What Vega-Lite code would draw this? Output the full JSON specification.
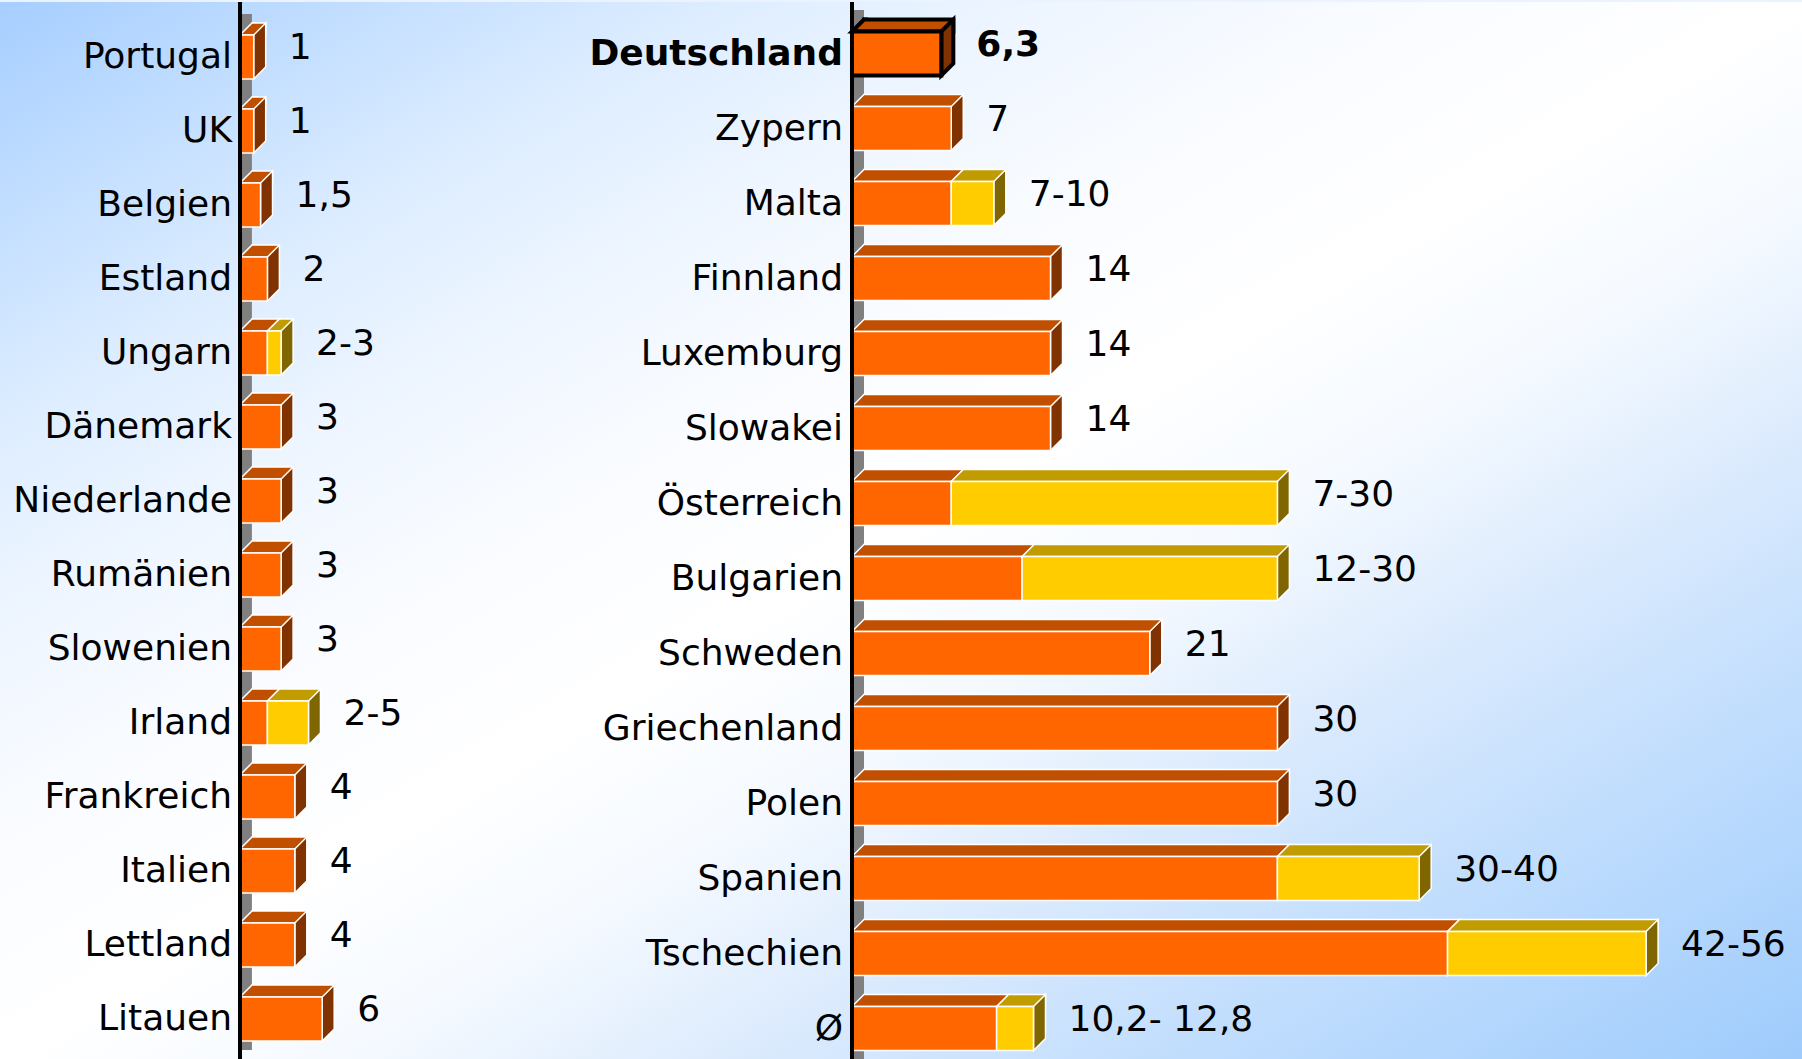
{
"$schema": "https://vega.github.io/schema/vega-lite/v6.json",
"background": "#EAF3FF",
"padding": 0,
"autosize": {"type": "pad"},
"bounds": "flush",
"spacing": 0,
"config": {"view": {"stroke": null}},
"datasets": {
"left": [
{"land":"Portugal","a":1,"b":1,"label":"1"},
{"land":"UK","a":1,"b":1,"label":"1"},
{"land":"Belgien","a":1.5,"b":1.5,"label":"1,5"},
{"land":"Estland","a":2,"b":2,"label":"2"},
{"land":"Ungarn","a":2,"b":3,"label":"2-3"},
{"land":"Dänemark","a":3,"b":3,"label":"3"},
{"land":"Niederlande","a":3,"b":3,"label":"3"},
{"land":"Rumänien","a":3,"b":3,"label":"3"},
{"land":"Slowenien","a":3,"b":3,"label":"3"},
{"land":"Irland","a":2,"b":5,"label":"2-5"},
{"land":"Frankreich","a":4,"b":4,"label":"4"},
{"land":"Italien","a":4,"b":4,"label":"4"},
{"land":"Lettland","a":4,"b":4,"label":"4"},
{"land":"Litauen","a":6,"b":6,"label":"6"}
],
"right": [
{"land":"Deutschland","a":6.3,"b":6.3,"label":"6,3"},
{"land":"Zypern","a":7,"b":7,"label":"7"},
{"land":"Malta","a":7,"b":10,"label":"7-10"},
{"land":"Finnland","a":14,"b":14,"label":"14"},
{"land":"Luxemburg","a":14,"b":14,"label":"14"},
{"land":"Slowakei","a":14,"b":14,"label":"14"},
{"land":"Österreich","a":7,"b":30,"label":"7-30"},
{"land":"Bulgarien","a":12,"b":30,"label":"12-30"},
{"land":"Schweden","a":21,"b":21,"label":"21"},
{"land":"Griechenland","a":30,"b":30,"label":"30"},
{"land":"Polen","a":30,"b":30,"label":"30"},
{"land":"Spanien","a":30,"b":40,"label":"30-40"},
{"land":"Tschechien","a":42,"b":56,"label":"42-56"},
{"land":"Ø","a":10.2,"b":12.8,"label":"10,2- 12,8"}
]
},
"hconcat": [
{
"width": 560, "height": 1059,
"data": {"name": "left"},
"view": {"stroke": null, "fill": {"gradient":"linear","x1":0,"y1":0,"x2":0.5668,"y2":1.8239,"stops":[{"offset":0,"color":"#A6CEFF"},{"offset":0.1,"color":"#C2DEFF"},{"offset":0.2,"color":"#DDEDFF"},{"offset":0.3,"color":"#EFF6FF"},{"offset":0.4,"color":"#FAFCFF"},{"offset":0.5,"color":"#FFFFFF"},{"offset":0.6,"color":"#F4F9FF"},{"offset":0.7,"color":"#DCEBFD"},{"offset":0.8,"color":"#C6E0FD"},{"offset":0.9,"color":"#B2D6FD"},{"offset":1,"color":"#9ECBFC"}]}},
"layer": [
{"mark": {"type":"point","shape":"M-0.16,-1L0.16,-1L0.16,1L-0.16,1Z","size":5476,"filled":true,"fill":"#808080","opacity":1,"strokeWidth":0,"xOffset":6,"yOffset":-6},
 "encoding": {"x":{"datum":0,"type":"quantitative","scale":{"domain":[-17.518,23.358],"nice":false,"zero":false},"axis":null},
 "y":{"field":"land","type":"nominal","sort":null,"axis":null,"scale":{"range":[18,1054],"paddingInner":0,"paddingOuter":0}}}},
{"mark": {"type":"bar","height":12,"yOffset":-28,"xOffset":12,"x2Offset":14,"fill":"#C04F00","stroke":"white","strokeWidth":1.5},
 "encoding": {"x":{"field":"a","type":"quantitative","scale":{"domain":[-17.518,23.358],"nice":false,"zero":false},"axis":null},
 "y":{"field":"land","type":"nominal","sort":null,"axis":null}}},
{"mark": {"type":"point","shape":"M0.8,0.6L-0.8,0.6L0.4,-0.6L0.8,-0.6","size":400,"filled":true,"fill":"#C04F00","opacity":1,"stroke":"white","strokeWidth":1.5,"xOffset":8,"yOffset":-28},
 "encoding": {"x":{"datum":0,"type":"quantitative","scale":{"domain":[-17.518,23.358],"nice":false,"zero":false},"axis":null},
 "y":{"field":"land","type":"nominal","sort":null,"axis":null}}},
{"mark": {"type":"point","shape":"M-0.2143,-0.5714L0.2143,-1L0.2143,0.5714L-0.2143,1Z","size":3136,"filled":true,"fill":"#803300","opacity":1,"stroke":"white","strokeWidth":1.5,"xOffset":6,"yOffset":-6},
 "encoding": {"x":{"field":"a","type":"quantitative","scale":{"domain":[-17.518,23.358],"nice":false,"zero":false},"axis":null},
 "y":{"field":"land","type":"nominal","sort":null,"axis":null}}},
{"mark": {"type":"bar","height":44,"fill":"#FF6600","stroke":"white","strokeWidth":1.5},
 "encoding": {"x":{"field":"a","type":"quantitative","scale":{"domain":[-17.518,23.358],"nice":false,"zero":false},"axis":null},
 "y":{"field":"land","type":"nominal","sort":null,"axis":null}}},
{"transform":[{"filter":"datum.b > datum.a"}],
 "mark": {"type":"bar","height":12,"yOffset":-28,"xOffset":14,"x2Offset":12,"fill":"#C09C00","stroke":"white","strokeWidth":1.5},
 "encoding": {"x":{"field":"a","type":"quantitative","scale":{"domain":[-17.518,23.358],"nice":false,"zero":false},"axis":null},"x2":{"field":"b"},
 "y":{"field":"land","type":"nominal","sort":null,"axis":null}}},
{"transform":[{"filter":"datum.b > datum.a"}],
 "mark": {"type":"point","shape":"M0.8,0.6L-0.8,0.6L0.4,-0.6L0.8,-0.6","size":400,"filled":true,"fill":"#C09C00","opacity":1,"stroke":"white","strokeWidth":1.5,"xOffset":8,"yOffset":-28},
 "encoding": {"x":{"field":"a","type":"quantitative","scale":{"domain":[-17.518,23.358],"nice":false,"zero":false},"axis":null},
 "y":{"field":"land","type":"nominal","sort":null,"axis":null}}},
{"transform":[{"filter":"datum.b > datum.a"}],
 "mark": {"type":"point","shape":"M-0.2143,-0.5714L0.2143,-1L0.2143,0.5714L-0.2143,1Z","size":3136,"filled":true,"fill":"#806600","opacity":1,"stroke":"white","strokeWidth":1.5,"xOffset":6,"yOffset":-6},
 "encoding": {"x":{"field":"b","type":"quantitative","scale":{"domain":[-17.518,23.358],"nice":false,"zero":false},"axis":null},
 "y":{"field":"land","type":"nominal","sort":null,"axis":null}}},
{"transform":[{"filter":"datum.b > datum.a"}],
 "mark": {"type":"bar","height":44,"fill":"#FFCC00","stroke":"white","strokeWidth":1.5},
 "encoding": {"x":{"field":"a","type":"quantitative","scale":{"domain":[-17.518,23.358],"nice":false,"zero":false},"axis":null},"x2":{"field":"b"},
 "y":{"field":"land","type":"nominal","sort":null,"axis":null}}},
{"mark": {"type":"rule","color":"black","strokeWidth":3},
 "encoding": {"x":{"datum":0,"type":"quantitative","scale":{"domain":[-17.518,23.358],"nice":false,"zero":false},"axis":null}}},
{"mark": {"type":"text","align":"right","baseline":"middle","dx":-8,"font":"DejaVu Sans","fontSize":36,"color":"black"},
 "encoding": {"x":{"datum":0,"type":"quantitative","scale":{"domain":[-17.518,23.358],"nice":false,"zero":false},"axis":null},
 "y":{"field":"land","type":"nominal","sort":null,"axis":null},
 "text":{"field":"land"}}},
{"mark": {"type":"text","align":"left","baseline":"middle","dx":35,"dy":-9,"font":"DejaVu Sans","fontSize":36,"color":"black"},
 "encoding": {"x":{"field":"b","type":"quantitative","scale":{"domain":[-17.518,23.358],"nice":false,"zero":false},"axis":null},
 "y":{"field":"land","type":"nominal","sort":null,"axis":null},
 "text":{"field":"label"}}}
]
},
{
"width": 1242, "height": 1059,
"data": {"name": "right"},
"view": {"stroke": null, "fill": {"gradient":"linear","x1":0,"y1":0,"x2":0.93453,"y2":1.35589,"stops":[{"offset":0,"color":"#D1E6FF"},{"offset":0.04462,"color":"#DDEDFF"},{"offset":0.14462,"color":"#EFF6FF"},{"offset":0.24462,"color":"#FAFCFF"},{"offset":0.34462,"color":"#FFFFFF"},{"offset":0.44462,"color":"#F4F9FF"},{"offset":0.54462,"color":"#DCEBFD"},{"offset":0.64462,"color":"#C6E0FD"},{"offset":0.74462,"color":"#B2D6FD"},{"offset":0.84462,"color":"#9ECBFC"},{"offset":1,"color":"#9ECBFC"}]}},
"layer": [
{"mark": {"type":"point","shape":"M-0.16,-1L0.16,-1L0.16,1L-0.16,1Z","size":5625,"filled":true,"fill":"#808080","opacity":1,"strokeWidth":0,"xOffset":6,"yOffset":-6},
 "encoding": {"x":{"datum":0,"type":"quantitative","scale":{"domain":[-20.592,66.996],"nice":false,"zero":false},"axis":null},
 "y":{"field":"land","type":"nominal","sort":null,"axis":null,"scale":{"range":[14,1064],"paddingInner":0,"paddingOuter":0}}}},
{"mark": {"type":"bar","height":12,"yOffset":-28,"xOffset":12,"x2Offset":14,"fill":"#C04F00"},
 "encoding": {"x":{"field":"a","type":"quantitative","scale":{"domain":[-20.592,66.996],"nice":false,"zero":false},"axis":null},
 "y":{"field":"land","type":"nominal","sort":null,"axis":null},
 "stroke":{"condition":{"test":"datum.land === 'Deutschland'","value":"black"},"value":"white"},
 "strokeWidth":{"condition":{"test":"datum.land === 'Deutschland'","value":4},"value":1.5}}},
{"mark": {"type":"point","shape":"M0.8,0.6L-0.8,0.6L0.4,-0.6L0.8,-0.6","size":400,"filled":true,"fill":"#C04F00","opacity":1,"xOffset":8,"yOffset":-28},
 "encoding": {"x":{"datum":0,"type":"quantitative","scale":{"domain":[-20.592,66.996],"nice":false,"zero":false},"axis":null},
 "y":{"field":"land","type":"nominal","sort":null,"axis":null},
 "stroke":{"condition":{"test":"datum.land === 'Deutschland'","value":"black"},"value":"white"},
 "strokeWidth":{"condition":{"test":"datum.land === 'Deutschland'","value":4},"value":1.5}}},
{"mark": {"type":"point","shape":"M-0.2143,-0.5714L0.2143,-1L0.2143,0.5714L-0.2143,1Z","size":3136,"filled":true,"fill":"#803300","opacity":1,"xOffset":6,"yOffset":-6},
 "encoding": {"x":{"field":"a","type":"quantitative","scale":{"domain":[-20.592,66.996],"nice":false,"zero":false},"axis":null},
 "y":{"field":"land","type":"nominal","sort":null,"axis":null},
 "stroke":{"condition":{"test":"datum.land === 'Deutschland'","value":"black"},"value":"white"},
 "strokeWidth":{"condition":{"test":"datum.land === 'Deutschland'","value":4},"value":1.5}}},
{"mark": {"type":"bar","height":44,"fill":"#FF6600"},
 "encoding": {"x":{"field":"a","type":"quantitative","scale":{"domain":[-20.592,66.996],"nice":false,"zero":false},"axis":null},
 "y":{"field":"land","type":"nominal","sort":null,"axis":null},
 "stroke":{"condition":{"test":"datum.land === 'Deutschland'","value":"black"},"value":"white"},
 "strokeWidth":{"condition":{"test":"datum.land === 'Deutschland'","value":4},"value":1.5}}},
{"transform":[{"filter":"datum.b > datum.a"}],
 "mark": {"type":"bar","height":12,"yOffset":-28,"xOffset":14,"x2Offset":12,"fill":"#C09C00","stroke":"white","strokeWidth":1.5},
 "encoding": {"x":{"field":"a","type":"quantitative","scale":{"domain":[-20.592,66.996],"nice":false,"zero":false},"axis":null},"x2":{"field":"b"},
 "y":{"field":"land","type":"nominal","sort":null,"axis":null}}},
{"transform":[{"filter":"datum.b > datum.a"}],
 "mark": {"type":"point","shape":"M0.8,0.6L-0.8,0.6L0.4,-0.6L0.8,-0.6","size":400,"filled":true,"fill":"#C09C00","opacity":1,"stroke":"white","strokeWidth":1.5,"xOffset":8,"yOffset":-28},
 "encoding": {"x":{"field":"a","type":"quantitative","scale":{"domain":[-20.592,66.996],"nice":false,"zero":false},"axis":null},
 "y":{"field":"land","type":"nominal","sort":null,"axis":null}}},
{"transform":[{"filter":"datum.b > datum.a"}],
 "mark": {"type":"point","shape":"M-0.2143,-0.5714L0.2143,-1L0.2143,0.5714L-0.2143,1Z","size":3136,"filled":true,"fill":"#806600","opacity":1,"stroke":"white","strokeWidth":1.5,"xOffset":6,"yOffset":-6},
 "encoding": {"x":{"field":"b","type":"quantitative","scale":{"domain":[-20.592,66.996],"nice":false,"zero":false},"axis":null},
 "y":{"field":"land","type":"nominal","sort":null,"axis":null}}},
{"transform":[{"filter":"datum.b > datum.a"}],
 "mark": {"type":"bar","height":44,"fill":"#FFCC00","stroke":"white","strokeWidth":1.5},
 "encoding": {"x":{"field":"a","type":"quantitative","scale":{"domain":[-20.592,66.996],"nice":false,"zero":false},"axis":null},"x2":{"field":"b"},
 "y":{"field":"land","type":"nominal","sort":null,"axis":null}}},
{"mark": {"type":"rule","color":"black","strokeWidth":3},
 "encoding": {"x":{"datum":0,"type":"quantitative","scale":{"domain":[-20.592,66.996],"nice":false,"zero":false},"axis":null}}},
{"transform":[{"filter":"datum.land !== 'Deutschland'"}],
 "mark": {"type":"text","align":"right","baseline":"middle","dx":-9,"font":"DejaVu Sans","fontSize":36,"color":"black"},
 "encoding": {"x":{"datum":0,"type":"quantitative","scale":{"domain":[-20.592,66.996],"nice":false,"zero":false},"axis":null},
 "y":{"field":"land","type":"nominal","sort":null,"axis":null},
 "text":{"field":"land"}}},
{"transform":[{"filter":"datum.land === 'Deutschland'"}],
 "mark": {"type":"text","align":"right","baseline":"middle","dx":-9,"font":"DejaVu Sans","fontSize":36,"fontWeight":"bold","color":"black"},
 "encoding": {"x":{"datum":0,"type":"quantitative","scale":{"domain":[-20.592,66.996],"nice":false,"zero":false},"axis":null},
 "y":{"field":"land","type":"nominal","sort":null,"axis":null},
 "text":{"field":"land"}}},
{"transform":[{"filter":"datum.land !== 'Deutschland'"}],
 "mark": {"type":"text","align":"left","baseline":"middle","dx":35,"dy":-9,"font":"DejaVu Sans","fontSize":36,"color":"black"},
 "encoding": {"x":{"field":"b","type":"quantitative","scale":{"domain":[-20.592,66.996],"nice":false,"zero":false},"axis":null},
 "y":{"field":"land","type":"nominal","sort":null,"axis":null},
 "text":{"field":"label"}}},
{"transform":[{"filter":"datum.land === 'Deutschland'"}],
 "mark": {"type":"text","align":"left","baseline":"middle","dx":35,"dy":-9,"font":"DejaVu Sans","fontSize":36,"fontWeight":"bold","color":"black"},
 "encoding": {"x":{"field":"b","type":"quantitative","scale":{"domain":[-20.592,66.996],"nice":false,"zero":false},"axis":null},
 "y":{"field":"land","type":"nominal","sort":null,"axis":null},
 "text":{"field":"label"}}}
]
}
]
}
